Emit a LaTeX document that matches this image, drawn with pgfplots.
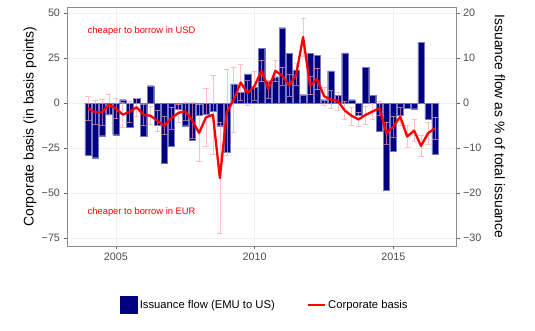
\documentclass[border=0pt]{standalone}
\usepackage{pgfplots}
\pgfplotsset{compat=1.18}
\usepackage{pgfplotstable}
\usepackage{fontspec}
\setmainfont{Liberation Sans}
\definecolor{navybar}{RGB}{0,0,128}
\definecolor{barline}{RGB}{120,120,190}
\definecolor{ebpink}{RGB}{255,160,170}
\definecolor{ticktext}{RGB}{77,77,77}
\definecolor{redline}{RGB}{255,0,0}

\pgfplotstableread{
x y
2004.00 -11.6
2004.25 -12.1
2004.50 -7.2
2004.75 -2.5
2005.00 -7.0
2005.25 0.8
2005.50 -5.4
2005.75 1.1
2006.00 -7.3
2006.25 3.9
2006.50 -4.8
2006.75 -13.4
2007.00 -9.5
2007.25 -1.4
2007.50 -5.0
2007.75 -8.2
2008.00 -2.6
2008.25 -2.4
2008.50 -1.8
2008.75 -5.0
2009.00 -10.8
2009.25 4.3
2009.50 2.4
2009.75 6.5
2010.00 3.6
2010.25 12.2
2010.50 5.0
2010.75 5.9
2011.00 16.8
2011.25 11.1
2011.50 7.4
2011.75 1.9
2012.00 11.1
2012.25 10.7
2012.50 0.8
2012.75 7.2
2013.00 1.7
2013.25 11.2
2013.50 0.8
2013.75 -2.7
2014.00 8.0
2014.25 1.8
2014.50 -6.3
2014.75 -19.3
2015.00 -10.6
2015.25 -2.6
2015.50 -1.1
2015.75 -1.2
2016.00 13.5
2016.25 -3.5
2016.50 -11.3
}\flowdata

\pgfplotstableread{
x y e
2004.00 -2.8 6.5
2004.25 -5.0 6.8
2004.50 -5.0 7
2004.75 -0.8 6
2005.00 -3.0 5.6
2005.25 -6.3 7
2005.50 -4.8 6
2005.75 -2.2 5
2006.00 -6.5 6
2006.25 -6.9 5
2006.50 -9.8 6
2006.75 -12.5 5
2007.00 -8.3 6
2007.25 -5.4 5
2007.50 -4.5 5
2007.75 -9.3 10
2008.00 -16.5 16
2008.25 -7.8 16
2008.50 -6.4 22
2008.75 -41.5 31
2009.00 -5.0 24
2009.25 1.9 18
2009.50 11.5 10
2009.75 5.6 7
2010.00 9.6 8
2010.25 18.0 6
2010.50 7.8 5
2010.75 18.0 6
2011.00 15.2 5
2011.25 9.8 6
2011.50 16.0 6
2011.75 36.8 10.5
2012.00 9.8 5
2012.25 13.5 6
2012.50 4.0 5
2012.75 2.0 5
2013.00 1.2 5
2013.25 -4.0 5
2013.50 -7.0 5
2013.75 -9.0 4
2014.00 -6.5 5
2014.25 -4.6 4.5
2014.50 -2.8 4
2014.75 -16.7 6
2015.00 -13.0 6
2015.25 -7.4 5
2015.50 -18.5 6
2015.75 -15.2 6
2016.00 -23.7 6
2016.25 -16.7 6
2016.50 -13.9 6
}\basisdata

\begin{document}
\begin{tikzpicture}
\path[use as bounding box] (0bp,0bp) rectangle (535bp,331bp);
% bars on right axis
\begin{axis}[
  at={(67bp,85bp)}, anchor=south west,
  scale only axis, width=389bp, height=239bp,
  xmin=2003.24, xmax=2017.26,
  ymin=-31.72, ymax=21.38,
  xtick={2005,2010,2015}, xticklabels={2005,2010,2015},
  ytick={-30,-20,-10,0,10,20},
  yticklabels={−30,−20,−10,0,10,20},
  xtick pos=bottom, ytick pos=right,
  tick align=outside, major tick length=3.5bp,
  major tick style={draw=black!60, line width=0.5bp},
  axis line style={draw=black!45, line width=0.5bp},
  grid=major, major grid style={draw=black!6, line width=0.5bp},
  tick label style={font=\fontsize{10.8}{12}\selectfont, text=ticktext},
  ylabel={Issuance flow as \% of total issuance},
  ylabel style={at={(axis description cs:1.113,0.5)}, anchor=center, rotate=180, font=\fontsize{14}{16}\selectfont},
  clip=true,
]
\addplot[ybar, bar width=0.225, fill=navybar, draw=barline, line width=0.2bp] table[x=x,y=y] {\flowdata};
\end{axis}
% corporate basis on left axis
\begin{axis}[
  at={(67bp,85bp)}, anchor=south west,
  scale only axis, width=389bp, height=239bp,
  xmin=2003.24, xmax=2017.26,
  ymin=-79.3, ymax=53.45,
  xtick=\empty,
  ytick={-75,-50,-25,0,25,50},
  yticklabels={−75,−50,−25,0,25,50},
  ytick pos=left,
  tick align=outside, major tick length=3.5bp,
  major tick style={draw=black!60, line width=0.5bp},
  axis line style={draw=none},
  tick label style={font=\fontsize{10.8}{12}\selectfont, text=ticktext},
  ylabel={Corporate basis (in basis points)},
  ylabel style={at={(axis description cs:-0.095,0.5)}, anchor=center, font=\fontsize{14}{16}\selectfont},
  legend style={at={(axis description cs:0.509,-0.247)}, anchor=center, draw=none, fill=none,
    legend columns=2, font=\fontsize{11.3}{13}\selectfont,
    /tikz/every even column/.append style={column sep=30bp}},
  clip=true,
]
\addlegendimage{legend image code/.code={\fill[navybar] (0bp,-8.5bp) rectangle (17bp,8.5bp);}}
\addlegendentry{Issuance flow (EMU to US)}
\addplot[forget plot, draw=none, mark=none,
  error bars/.cd, y dir=both, y explicit,
  error bar style={draw=ebpink, draw opacity=0.65, line width=0.6bp},
  error mark options={rotate=90, draw=ebpink, draw opacity=0.65, mark size=2.6bp, line width=0.6bp}]
  table[x=x,y=y,y error=e] {\basisdata};
\addplot[draw=redline, line width=2.3bp, mark=none, line join=round] table[x=x,y=y] {\basisdata};
\addlegendentry{Corporate basis}
\node[anchor=west, text=redline, font=\fontsize{9.4}{11}\selectfont] at (axis cs:2003.86,40.2) {cheaper to borrow in USD};
\node[anchor=west, text=redline, font=\fontsize{9.4}{11}\selectfont] at (axis cs:2003.86,-60.4) {cheaper to borrow in EUR};
\end{axis}
\end{tikzpicture}
\end{document}
